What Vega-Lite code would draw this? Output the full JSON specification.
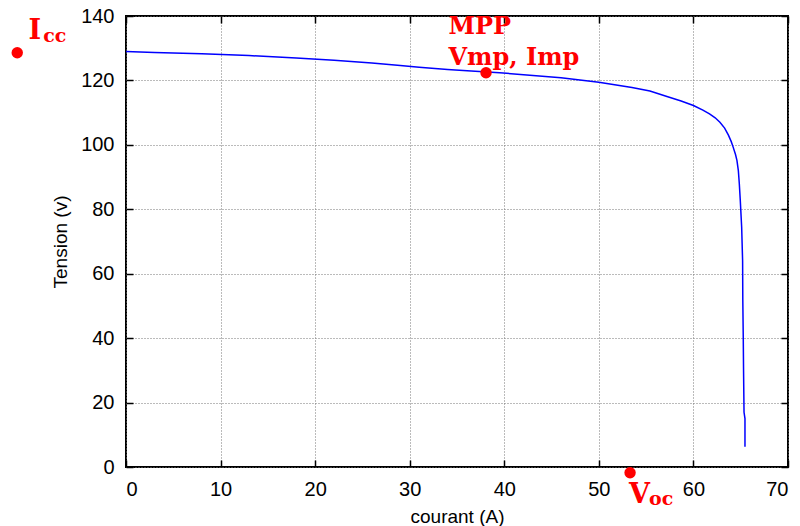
{
  "$schema": "https://vega.github.io/schema/vega-lite/v6.json",
  "width": 662,
  "height": 451,
  "autosize": "none",
  "padding": {"left": 126, "top": 16, "right": 12, "bottom": 59},
  "background": "white",
  "view": {"stroke": "black", "strokeWidth": 2},
  "config": {
    "font": "Liberation Sans",
    "axis": {
      "labelFont": "Liberation Sans",
      "titleFont": "Liberation Sans",
      "labelFontSize": 20,
      "titleFontSize": 19,
      "labelColor": "black",
      "titleColor": "black",
      "titleFontWeight": "normal",
      "tickColor": "black",
      "tickWidth": 1.5,
      "domain": false
    }
  },
  "datasets": {
    "curve": [
      {"courant": 0, "tension": 129.0},
      {"courant": 3, "tension": 128.7},
      {"courant": 8, "tension": 128.3},
      {"courant": 13, "tension": 127.7},
      {"courant": 18, "tension": 127.0},
      {"courant": 22, "tension": 126.3},
      {"courant": 26, "tension": 125.4},
      {"courant": 29, "tension": 124.6},
      {"courant": 31, "tension": 124.1},
      {"courant": 34, "tension": 123.4},
      {"courant": 36.5, "tension": 122.9},
      {"courant": 39.5, "tension": 122.4},
      {"courant": 42.7, "tension": 121.6},
      {"courant": 46, "tension": 120.8},
      {"courant": 50, "tension": 119.4},
      {"courant": 53.5, "tension": 117.8},
      {"courant": 55.4, "tension": 116.7},
      {"courant": 57.2, "tension": 115.0},
      {"courant": 58.7, "tension": 113.6},
      {"courant": 60, "tension": 112.2},
      {"courant": 61, "tension": 110.8},
      {"courant": 61.7, "tension": 109.6},
      {"courant": 62.3, "tension": 108.4},
      {"courant": 62.8, "tension": 107.0},
      {"courant": 63.3, "tension": 105.2},
      {"courant": 63.7, "tension": 103.0},
      {"courant": 64.0, "tension": 101.0},
      {"courant": 64.2, "tension": 99.3},
      {"courant": 64.45, "tension": 97.0},
      {"courant": 64.6, "tension": 95.2},
      {"courant": 64.75, "tension": 92.0},
      {"courant": 64.85, "tension": 88.0},
      {"courant": 64.95, "tension": 83.0},
      {"courant": 65.1, "tension": 74.5},
      {"courant": 65.2, "tension": 64.0},
      {"courant": 65.22, "tension": 52.0},
      {"courant": 65.27, "tension": 40.0},
      {"courant": 65.3, "tension": 30.0},
      {"courant": 65.35, "tension": 17.0},
      {"courant": 65.45, "tension": 15.0},
      {"courant": 65.45, "tension": 6.3}
    ],
    "points": [
      {"name": "Icc", "courant": -11.5, "tension": 128.6},
      {"name": "MPP", "courant": 38.07, "tension": 122.4},
      {"name": "Voc", "courant": 53.3, "tension": -1.8}
    ],
    "mainText": [
      {"label": "MPP", "courant": 34.1, "tension": 134.3},
      {"label": "Vmp, Imp", "courant": 34.1, "tension": 124.8}
    ],
    "bigLetters": [
      {"label": "I", "courant": -10.3, "tension": 133.0},
      {"label": "V", "courant": 53.2, "tension": -11.1}
    ],
    "subText": [
      {"label": "cc", "courant": -8.75, "tension": 132.0},
      {"label": "oc", "courant": 55.3, "tension": -11.8}
    ]
  },
  "layer": [
    {
      "data": {"name": "curve"},
      "mark": {"type": "line", "color": "#0000FF", "strokeWidth": 1.5, "clip": false},
      "encoding": {
        "x": {
          "field": "courant", "type": "quantitative",
          "scale": {"domain": [0, 70], "nice": false},
          "axis": {
            "title": "courant (A)", "orient": "bottom",
            "values": [0, 10, 20, 30, 40, 50, 60, 70],
            "tickSize": -7, "labelPadding": 19, "titleY": 55, "titleBaseline": "alphabetic",
            "grid": true, "gridColor": "#777777", "gridDash": [1, 2], "gridWidth": 1
          }
        },
        "y": {
          "field": "tension", "type": "quantitative",
          "scale": {"domain": [0, 140], "nice": false},
          "axis": {
            "title": "Tension (v)", "orient": "left",
            "values": [0, 20, 40, 60, 80, 100, 120, 140],
            "tickSize": -7, "labelPadding": 19, "titleX": -56,
            "grid": true, "gridColor": "#777777", "gridDash": [1, 2], "gridWidth": 1
          }
        },
        "order": {"value": 0}
      }
    },
    {
      "data": {"name": "points"},
      "mark": {"type": "circle", "color": "#FF0000", "opacity": 1, "size": 130, "clip": false},
      "encoding": {
        "x": {"field": "courant", "type": "quantitative",
          "axis": {"orient": "top", "title": null, "labels": false, "grid": false, "tickSize": -7,
                   "values": [0, 10, 20, 30, 40, 50, 60, 70]}},
        "y": {"field": "tension", "type": "quantitative",
          "axis": {"orient": "right", "title": null, "labels": false, "grid": false, "tickSize": -7,
                   "values": [0, 20, 40, 60, 80, 100, 120, 140]}}
      }
    },
    {
      "data": {"name": "mainText"},
      "mark": {"type": "text", "font": "DejaVu Serif", "fontWeight": "bold", "fontSize": 24, "color": "#FF0000", "align": "left", "baseline": "alphabetic", "clip": false},
      "encoding": {
        "x": {"field": "courant", "type": "quantitative", "axis": null},
        "y": {"field": "tension", "type": "quantitative", "axis": null},
        "text": {"field": "label"}
      }
    },
    {
      "data": {"name": "bigLetters"},
      "mark": {"type": "text", "font": "DejaVu Serif", "fontWeight": "bold", "fontSize": 27, "color": "#FF0000", "align": "left", "baseline": "alphabetic", "clip": false},
      "encoding": {
        "x": {"field": "courant", "type": "quantitative", "axis": null},
        "y": {"field": "tension", "type": "quantitative", "axis": null},
        "text": {"field": "label"}
      }
    },
    {
      "data": {"name": "subText"},
      "mark": {"type": "text", "font": "DejaVu Serif", "fontWeight": "bold", "fontSize": 19, "color": "#FF0000", "align": "left", "baseline": "alphabetic", "clip": false},
      "encoding": {
        "x": {"field": "courant", "type": "quantitative", "axis": null},
        "y": {"field": "tension", "type": "quantitative", "axis": null},
        "text": {"field": "label"}
      }
    }
  ],
  "resolve": {"axis": {"x": "independent", "y": "independent"}}
}
